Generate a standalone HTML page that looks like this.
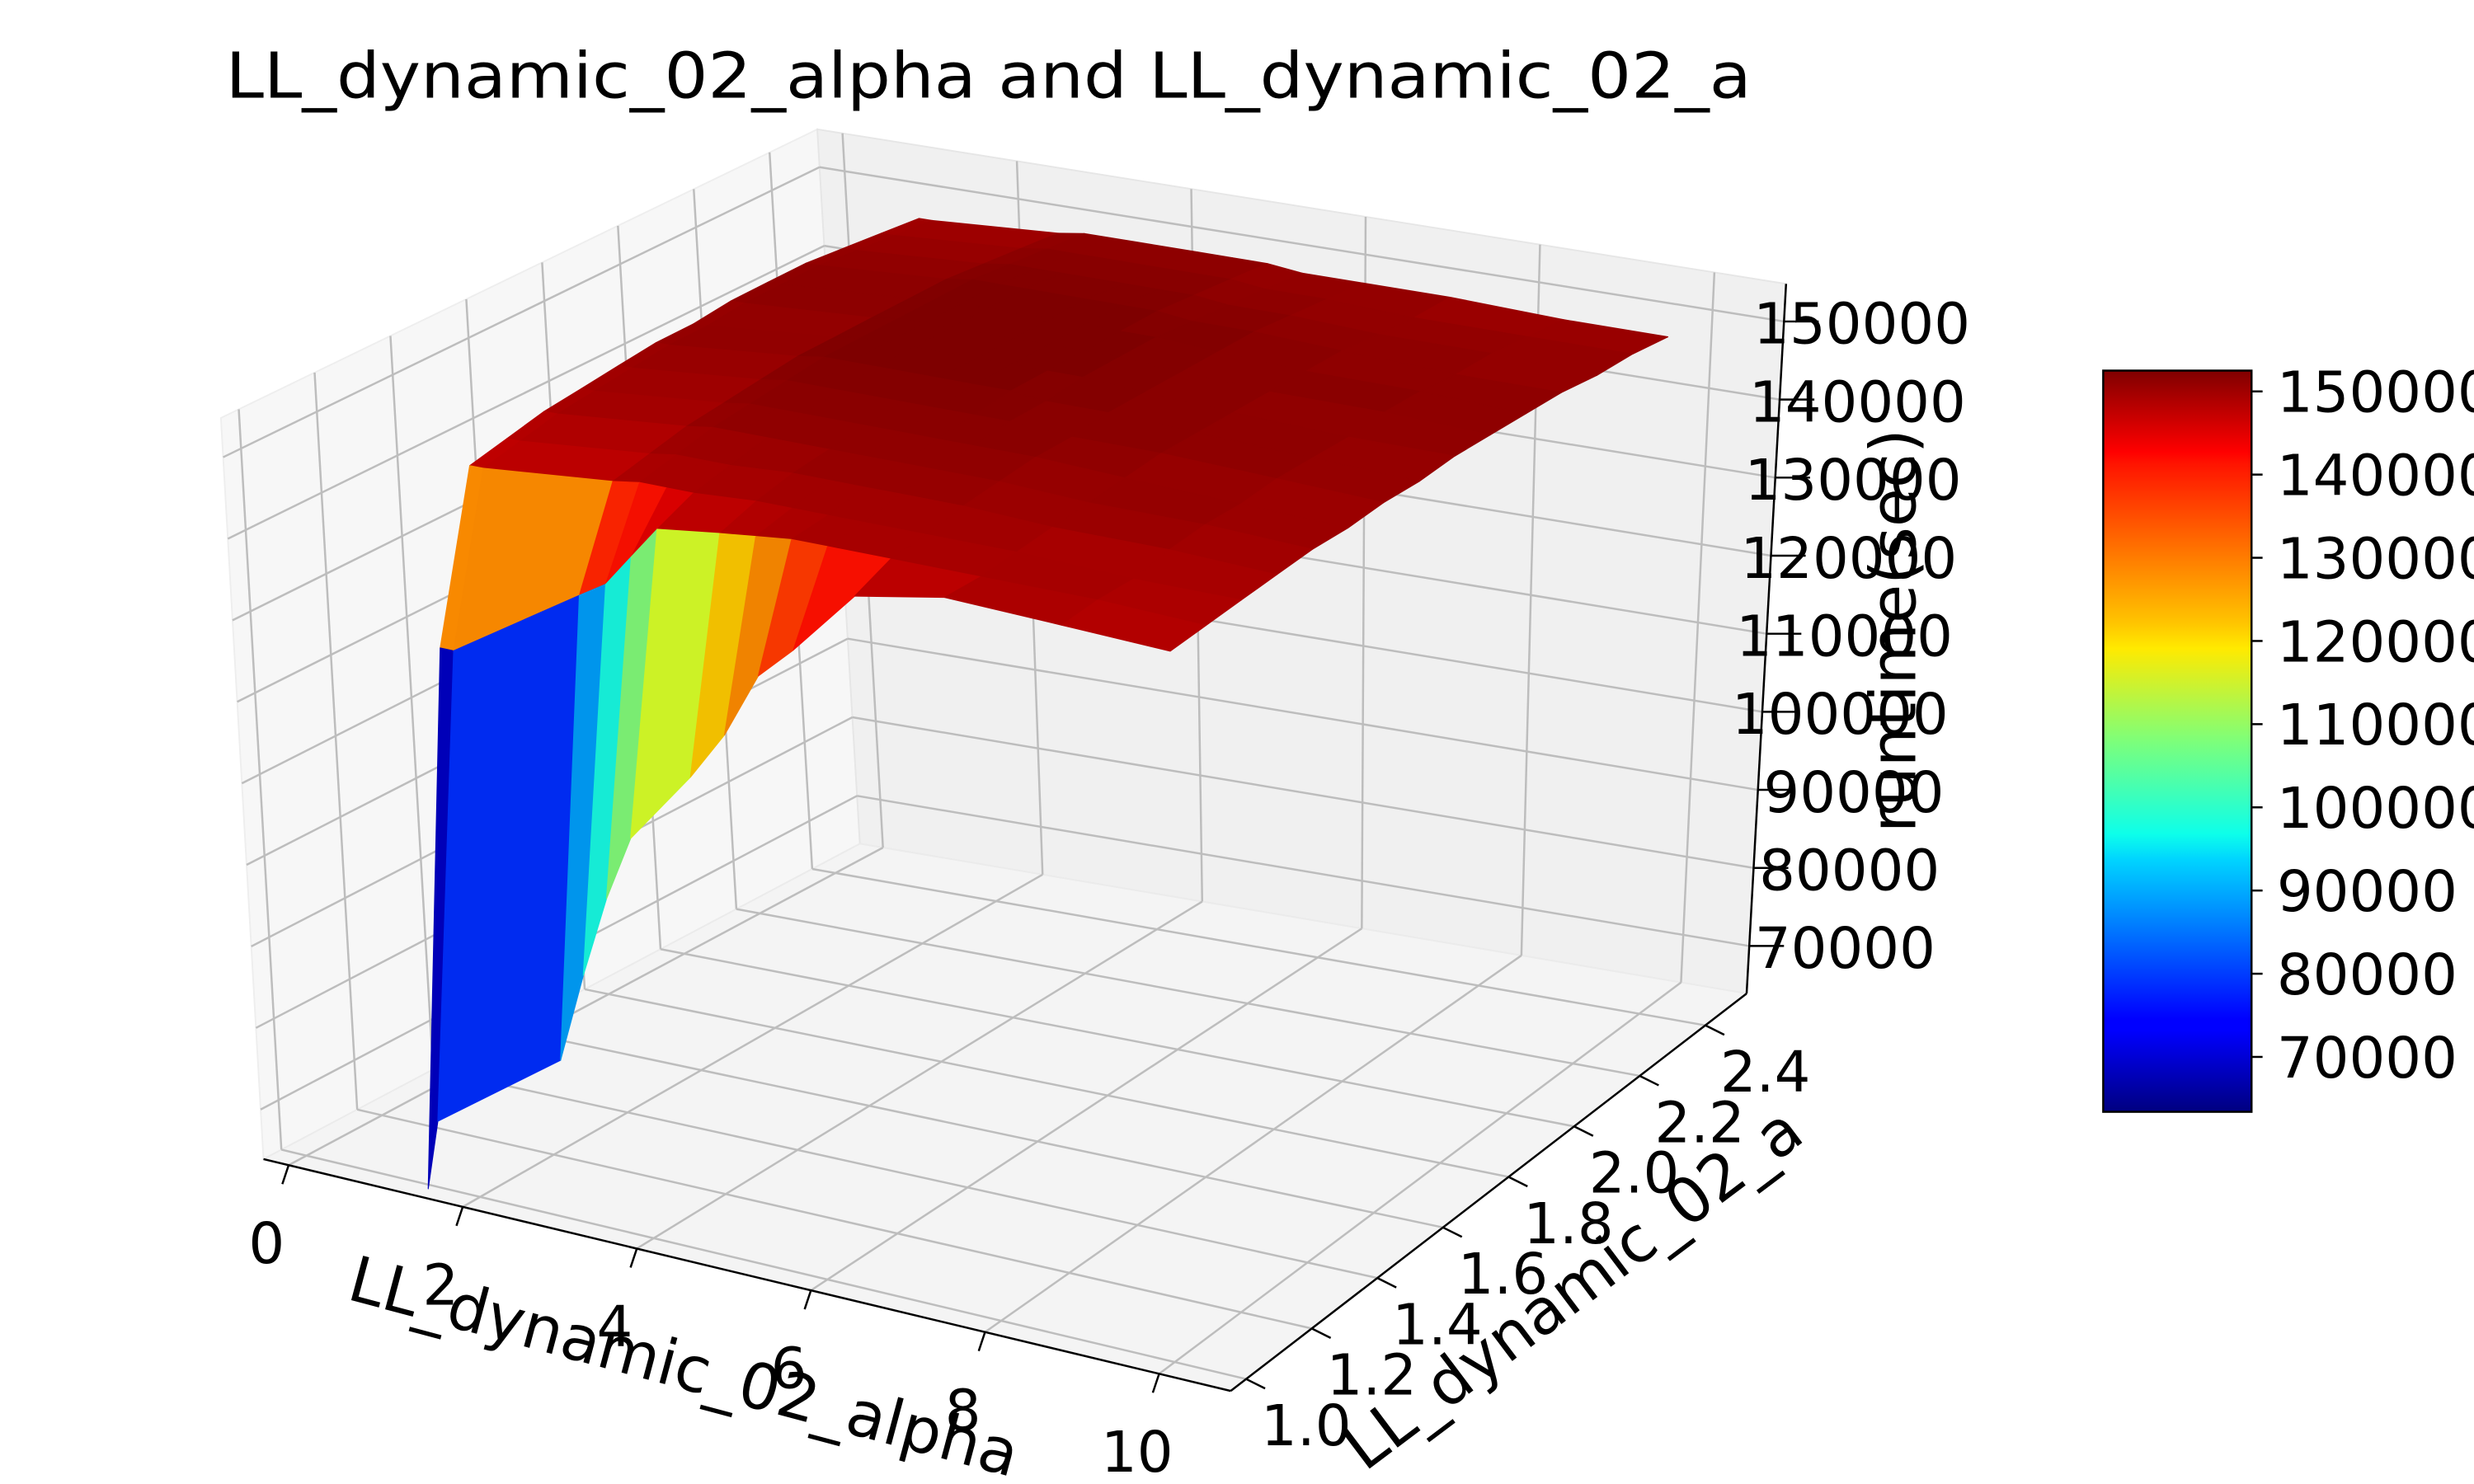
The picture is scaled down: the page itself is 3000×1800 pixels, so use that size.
<!DOCTYPE html>
<html><head><meta charset="utf-8">
<style>
html,body{margin:0;padding:0;background:#fff;}
svg{display:block;font-family:"DejaVu Sans","Liberation Sans",sans-serif;}
</style></head>
<body>
<svg id="chart" width="3000" height="1800" viewBox="0 0 1568 941" preserveAspectRatio="none" xmlns="http://www.w3.org/2000/svg">
<defs>
<linearGradient id="jetgrad" x1="0" y1="1" x2="0" y2="0">
<stop offset="0" stop-color="#000080"/><stop offset="0.11" stop-color="#0000ff"/>
<stop offset="0.125" stop-color="#0000ff"/><stop offset="0.34" stop-color="#00d4ff"/>
<stop offset="0.375" stop-color="#0dffea"/><stop offset="0.5" stop-color="#7dff7a"/>
<stop offset="0.625" stop-color="#ffea00"/><stop offset="0.66" stop-color="#ffc400"/>
<stop offset="0.875" stop-color="#ff1300"/><stop offset="0.89" stop-color="#ff0000"/>
<stop offset="1" stop-color="#800000"/>
</linearGradient>
</defs>
<text x="143" y="62" font-size="40" textLength="967" lengthAdjust="spacingAndGlyphs" fill="#000">LL_dynamic_02_alpha and LL_dynamic_02_a</text>
<g id="panes"></g>
<g id="grid"></g>
<g id="surface"></g>
<g id="axes"></g>
<g id="colorbar"></g>
</svg>
<script>
// ---- data ----
const alphaValues = [1.4,1.55,3.0,3.3,3.6,3.9,4.6,5.0,5.4,5.8,6.5,7.5,8.8,10];
const aValues = [1.0,1.1,1.2,1.3,1.4,1.5,1.6,1.7,1.8,1.9,2.0,2.1,2.2,2.3,2.4];
// each array: runtime over alphaValues at a fixed a
const zA10 = [63400,72000,83000,94000,104000,112000,121000,127000,135000,139000,147000,149000,148500,148000];
const zA11 = [127000,127000,137000,139000,143000,147000,148000,148500,149000,149000,149000,149000,149000,148500];
const zA12 = [147000,147000,148500,149000,149000,149000,149500,149500,149500,149500,149500,149500,149000,149000];
const zA13 = [148000,148000,149500,150000,150000,150000,150500,150500,150500,150500,150500,150000,150000,149500];
const zA14 = [149000,149000,150500,151000,151000,151000,151000,151000,151000,151000,151000,150500,150500,150000];
const zA15 = [149500,149500,151000,151500,151500,151500,151500,151500,151500,151500,151500,151000,150500,150000];
const zA16 = [150000,150000,151500,152000,152000,152000,152000,152000,152000,152000,151500,151500,151000,150500];
const zA17 = [150500,150500,152000,152500,152500,152500,152500,152500,152500,152000,152000,151500,151000,150500];
const zA18 = [150500,150500,152000,152500,152500,152500,152500,152500,152500,152500,152000,151500,151000,151000];
const zA19 = [151000,151000,152000,152500,152500,152500,152500,152500,152500,152500,152000,151500,151500,151000];
const zA20 = [151000,151000,152000,152500,152500,152500,152500,152500,152500,152500,152000,151500,151500,151000];
const zA21 = [151000,151000,152000,152500,152500,152500,152500,152500,152500,152000,152000,151500,151000,151000];
const zA22 = [150500,150500,151500,152000,152000,152000,152000,152000,152000,151500,151500,151000,151000,150500];
const zA23 = [150000,150000,151000,151500,151500,151500,151500,151500,151500,151000,151000,150500,150500,150500];
const zA24 = [149500,149500,150500,151000,151000,151000,151000,151000,151000,150500,150500,150500,150000,150000];
const zCols = [zA10,zA11,zA12,zA13,zA14,zA15,zA16,zA17,zA18,zA19,zA20,zA21,zA22,zA23,zA24];
const alphaTicks = [0,2,4,6,8,10];
const aTicks = [1.0,1.2,1.4,1.6,1.8,2.0,2.2,2.4];
const aTickLabels = ["1.0","1.2","1.4","1.6","1.8","2.0","2.2","2.4"];
const zTicks = [70000,80000,90000,100000,110000,120000,130000,140000,150000];

const NS="http://www.w3.org/2000/svg";
function mk(tag,attrs,parent){const e=document.createElementNS(NS,tag);for(const k in attrs)e.setAttribute(k,attrs[k]);parent.appendChild(e);return e;}

const FL={L:[167,735],F:[780,882],R:[1107,630],B:[545,535]};
const TP={L:[140,265],F:[778,392],R:[1132,180],B:[518,82]};
function bil(c,u,v){return [
 (1-u)*(1-v)*c.L[0]+u*(1-v)*c.F[0]+u*v*c.R[0]+(1-u)*v*c.B[0],
 (1-u)*(1-v)*c.L[1]+u*(1-v)*c.F[1]+u*v*c.R[1]+(1-u)*v*c.B[1]];}
function proj(u,v,w){const f=bil(FL,u,v),t=bil(TP,u,v);return [f[0]+w*(t[0]-f[0]),f[1]+w*(t[1]-f[1])];}
function uOf(al){return 0.026+al*0.09;}
function vOf(a){return 0.03+(a-1)/1.4*0.89;}
function wOf(z){return 0.067+(z-70000)*0.0000110;}
function pt(p){return p[0].toFixed(1)+","+p[1].toFixed(1);}

const panes=document.getElementById('panes');
let e;
e=mk('polygon',{points:[FL.L,FL.B,TP.B,TP.L].map(pt).join(' '),fill:'#f7f7f7',stroke:'#eeeeee'},panes);

e=mk('polygon',{points:[FL.B,FL.R,TP.R,TP.B].map(pt).join(' '),fill:'#f0f0f0',stroke:'#e6e6e6'},panes);

e=mk('polygon',{points:[FL.L,FL.F,FL.R,FL.B].map(pt).join(' '),fill:'#f4f4f4',stroke:'#ebebeb'},panes);


const grid=document.getElementById('grid');
function line(p,q,parent,col,wd,name){const l=mk('line',{x1:p[0],y1:p[1],x2:q[0],y2:q[1],stroke:col,'stroke-width':wd},parent);
 return l;}
alphaTicks.forEach(al=>{const u=uOf(al);
 line(proj(u,0,0),proj(u,1,0),grid,'#bdbdbd',1.3,'floor-grid-alpha');
 line(proj(u,1,0),proj(u,1,1),grid,'#bdbdbd',1.3,'back-grid-alpha');});
aTicks.forEach(a=>{const v=vOf(a);
 line(proj(0,v,0),proj(1,v,0),grid,'#bdbdbd',1.3,'floor-grid-a');
 line(proj(0,v,0),proj(0,v,1),grid,'#bdbdbd',1.3,'left-grid-a');});
zTicks.forEach(z=>{const w=wOf(z);
 line(proj(0,0,w),proj(0,1,w),grid,'#bdbdbd',1.3,'left-grid-z');
 line(proj(0,1,w),proj(1,1,w),grid,'#bdbdbd',1.3,'back-grid-z');});

let zmin=Infinity,zmax=-Infinity;zCols.forEach(r=>r.forEach(z=>{zmin=Math.min(zmin,z);zmax=Math.max(zmax,z);}));
function jet(t){const c=x=>Math.max(0,Math.min(1,x));return [c(1.5-Math.abs(4*t-3)),c(1.5-Math.abs(4*t-2)),c(1.5-Math.abs(4*t-1))];}
function Z(i,j){return zCols[j][i];}
const faces=[];
for(let i=0;i<alphaValues.length-1;i++){for(let j=0;j<aValues.length-1;j++){
 const u0=uOf(alphaValues[i]),u1=uOf(alphaValues[i+1]),v0=vOf(aValues[j]),v1=vOf(aValues[j+1]);
 const z00=Z(i,j),z10=Z(i+1,j),z11=Z(i+1,j+1),z01=Z(i,j+1);
 const zs=[z00,z10,z11,z01];
 const zc=0.9*Math.min(...zs)+0.1*Math.max(...zs);
 const du=u1-u0,dv=v1-v0;
 const dzu=(wOf(z10)+wOf(z11)-wOf(z00)-wOf(z01))/2/du, dzv=(wOf(z01)+wOf(z11)-wOf(z00)-wOf(z10))/2/dv;
 let n=[-dzu,-dzv,1];const nl=Math.hypot(...n);n=n.map(x=>x/nl);
 let l=[0.5,-0.6,1];const ll=Math.hypot(...l);l=l.map(x=>x/ll);
 const d=Math.abs(n[0]*l[0]+n[1]*l[1]+n[2]*l[2]);
 const shade=0.85+0.18*d;
 const col=jet((zc-zmin)/(zmax-zmin)).map(x=>Math.min(255,Math.round(255*x*shade)));
 faces.push({pts:[proj(u0,v0,wOf(z00)),proj(u1,v0,wOf(z10)),proj(u1,v1,wOf(z11)),proj(u0,v1,wOf(z01))],
   depth:(1-(u0+u1)/2)+(v0+v1)/2,col:'rgb('+col.join(',')+')'});
}}
faces.sort((a,b)=>b.depth-a.depth);
const surf=document.getElementById('surface');
faces.forEach(f=>{const p=mk('polygon',{points:f.pts.map(pt).join(' '),fill:f.col,stroke:f.col,'stroke-width':0.6,'stroke-linejoin':'round'},surf);
 });

const ax=document.getElementById('axes');
line(FL.L,FL.F,ax,'#000',1.3,'x-axis-line');
line(FL.F,FL.R,ax,'#000',1.3,'y-axis-line');
line(TP.R,FL.R,ax,'#000',1.3,'z-axis-line');
function txt(x,y,s,size,name,anchor,rot){const t=mk('text',{x:x,y:y,'font-size':size,'text-anchor':anchor||'middle',fill:'#000'},ax);
 if(rot)t.setAttribute('transform','rotate('+rot+' '+x+' '+y+')');t.textContent=s;
 return t;}
alphaTicks.forEach(al=>{const u=uOf(al);const p=proj(u,0,0);
 line(p,[p[0]-4,p[1]+12],ax,'#000',1.3,'x-tick');
 txt(p[0]-14,p[1]+62,String(al),36,'x-tick-label');});
aTicks.forEach((a,k)=>{const v=vOf(a);const p=proj(1,v,0);
 line(p,[p[0]+12,p[1]+6],ax,'#000',1.3,'y-tick');
 txt(p[0]+38,p[1]+42,aTickLabels[k],36,'y-tick-label');});
zTicks.forEach(z=>{const w=wOf(z);const p=proj(1,1,w);
 line(p,[p[0]+22,p[1]],ax,'#000',1.3,'z-tick');
 txt(p[0]+118,p[1]+14,String(z),36,'z-tick-label','end');});
txt(430,880,'LL_dynamic_02_alpha',40,'x-axis-title','middle',15);
txt(1005,828,'LL_dynamic_02_a',40,'y-axis-title','middle',-37);
txt(1214,400,'runtime(sec)',40,'z-axis-title','middle',-90);

const cb=document.getElementById('colorbar');
const cbX=1333,cbW=94,cbTop=235,cbBot=705;
e=mk('rect',{x:cbX,y:cbTop,width:cbW,height:cbBot-cbTop,fill:'url(#jetgrad)',stroke:'#000','stroke-width':1.3},cb);

zTicks.forEach(z=>{const y=cbBot-(z-zmin)/(zmax-zmin)*(cbBot-cbTop);
 const l=mk('line',{x1:cbX+cbW,y1:y,x2:cbX+cbW+7,y2:y,stroke:'#000','stroke-width':1.3},cb);
 
 const t=mk('text',{x:cbX+cbW+16,y:y+13,'font-size':36,fill:'#000'},cb);t.textContent=String(z);
 });
</script>
</body></html>
